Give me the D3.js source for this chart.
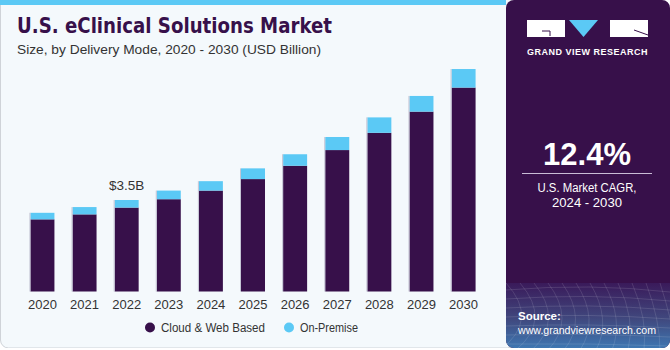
<!DOCTYPE html>
<html><head><meta charset="utf-8">
<script src="https://cdn.jsdelivr.net/npm/d3@7"></script>
<style>html,body{margin:0;padding:0;background:#fff;}svg{display:block;font-family:"Liberation Sans",Arial,sans-serif;}</style>
</head><body>
<script>
const years = ["2020","2021","2022","2023","2024","2025","2026","2027","2028","2029","2030"];
const cloudWeb = [2.76,2.95,3.21,3.53,3.86,4.30,4.81,5.41,6.07,6.88,7.80];
const onPremise = [0.25,0.28,0.29,0.33,0.36,0.41,0.44,0.50,0.59,0.60,0.71];
const seriesNames = ["Cloud & Web Based","On-Premise"];
const seriesColors = ["#37104a","#5bc9f5"];
const annotation = {year:"2022", text:"$3.5B"};

const W=670,H=350;
const svg=d3.select("body").append("svg").attr("width",W).attr("height",H);
const defs=svg.append("defs");

// left panel
svg.append("rect").attr("x",0.5).attr("y",-10).attr("width",515).attr("height",358).attr("rx",8)
  .attr("fill","#f4f9fc").attr("stroke","#cfd3d8").attr("stroke-width",1);
svg.append("rect").attr("x",0).attr("y",0).attr("width",506).attr("height",5).attr("fill","#5bc9f5");

// right panel
const grad=defs.append("linearGradient").attr("id","src").attr("x1",0).attr("y1",0).attr("x2",0).attr("y2",1);
grad.append("stop").attr("offset","0%").attr("stop-color","#3a1a5a");
grad.append("stop").attr("offset","45%").attr("stop-color","#40487e");
grad.append("stop").attr("offset","100%").attr("stop-color","#3d8fcc");
const clip=defs.append("clipPath").attr("id","rp");
clip.append("rect").attr("x",506).attr("y",0).attr("width",164).attr("height",348).attr("rx",8);
const rp=svg.append("g").attr("clip-path","url(#rp)");
rp.append("rect").attr("x",506).attr("y",0).attr("width",180).attr("height",360).attr("fill","#37104a");
rp.append("rect").attr("x",506).attr("y",283).attr("width",180).attr("height",80).attr("fill","url(#src)");
// grid texture
const tex=rp.append("g").attr("stroke","#ffffff").attr("stroke-opacity",0.12).attr("fill","none");
for(let i=0;i<14;i++){tex.append("path").attr("d",`M${506+i*14},283 Q${540+i*12},320 ${500+i*16},350`);}
for(let j=0;j<7;j++){tex.append("path").attr("d",`M506,${290+j*9} Q590,${283+j*10} 670,${292+j*9}`);}
svg.append("rect").attr("x",0).attr("y",348).attr("width",W).attr("height",2).attr("fill","#fff");

// logo
const lg=svg.append("g");
lg.append("rect").attr("x",527).attr("y",20).attr("width",38).attr("height",17).attr("fill","#fff");
lg.append("path").attr("d","M542,31 L550,31 L550,36 M550,31").attr("stroke","#37104a").attr("stroke-width",1).attr("fill","none");
lg.append("path").attr("d","M569,20 L598,20 L583.5,37 Z").attr("fill","#5bc9f5");
lg.append("rect").attr("x",610).attr("y",20).attr("width",38).attr("height",17).attr("fill","#fff");
lg.append("path").attr("d","M634,30 L648,35").attr("stroke","#37104a").attr("stroke-width",1);
lg.append("text").attr("x",587.5).attr("y",55).attr("text-anchor","middle").attr("fill","#fff")
  .attr("font-size",9).attr("font-weight","bold").attr("letter-spacing",0.5).text("GRAND VIEW RESEARCH");

// CAGR
svg.append("text").attr("x",587).attr("y",165).attr("text-anchor","middle").attr("fill","#fff")
  .attr("font-size",31).attr("font-weight","bold").text("12.4%");
svg.append("line").attr("x1",522).attr("x2",652).attr("y1",173.5).attr("y2",173.5).attr("stroke","#c9bcd6").attr("stroke-width",1);
svg.append("text").attr("x",587).attr("y",192).attr("text-anchor","middle").attr("fill","#fff").attr("font-size",12.5)
  .attr("textLength",99).attr("lengthAdjust","spacingAndGlyphs").text("U.S. Market CAGR,");
svg.append("text").attr("x",587).attr("y",207).attr("text-anchor","middle").attr("fill","#fff").attr("font-size",12.5)
  .attr("textLength",70).attr("lengthAdjust","spacingAndGlyphs").text("2024 - 2030");

// source
svg.append("text").attr("x",518).attr("y",320).attr("fill","#fff").attr("font-size",11.5).attr("font-weight","bold").text("Source:");
svg.append("text").attr("x",518).attr("y",334).attr("fill","#fff").attr("font-size",11.5)
  .attr("textLength",138).attr("lengthAdjust","spacingAndGlyphs").text("www.grandviewresearch.com");

// titles
svg.append("text").attr("x",17).attr("y",33).attr("fill","#37104a").attr("font-size",21).attr("font-weight","900")
  .attr("font-family","'DejaVu Sans',sans-serif").attr("textLength",315).attr("lengthAdjust","spacingAndGlyphs")
  .text("U.S. eClinical Solutions Market");
svg.append("text").attr("x",17).attr("y",54).attr("fill","#333").attr("font-size",13.5)
  .attr("textLength",304).attr("lengthAdjust","spacingAndGlyphs").text("Size, by Delivery Mode, 2020 - 2030 (USD Billion)");

// chart
const x=d3.scaleBand().domain(years).range([22,484]).paddingInner(0.43).paddingOuter(0.2);
const y=d3.scaleLinear().domain([0,3.5]).range([291.5,200]);
const data=years.map((yr,i)=>({year:yr,cloud:cloudWeb[i],onprem:onPremise[i]}));
const stack=d3.stack().keys(["cloud","onprem"])(data);
const g=svg.append("g");
stack.forEach((s,si)=>{
  g.selectAll(null).data(s).enter().append("rect")
    .attr("x",d=>x(d.data.year)).attr("width",x.bandwidth())
    .attr("y",d=>y(d[1])).attr("height",d=>y(d[0])-y(d[1]))
    .attr("fill",seriesColors[si]);
});
g.selectAll(null).data(data).enter().append("line")
  .attr("x1",d=>x(d.year)-0.5).attr("x2",d=>x(d.year)-0.5)
  .attr("y1",d=>y(d.cloud+d.onprem)).attr("y2",y(0))
  .attr("stroke","#c4c4d4").attr("stroke-width",1);

const ax=svg.append("g").attr("transform",`translate(0,${y(0)})`).call(d3.axisBottom(x).tickSize(0).tickPadding(8));
ax.select(".domain").remove();
ax.selectAll("text").attr("font-size",13).attr("fill","#333").attr("font-family","'Liberation Sans',Arial,sans-serif");

const ai=years.indexOf(annotation.year);
svg.append("text").attr("x",x(annotation.year)+x.bandwidth()/2).attr("y",y(cloudWeb[ai]+onPremise[ai])-10)
  .attr("text-anchor","middle").attr("fill","#333").attr("font-size",13.5).text(annotation.text);

// legend
const leg=svg.append("g");
[[150,0,104],[289,1,58]].forEach(([lx,i,tl])=>{
  leg.append("circle").attr("cx",lx).attr("cy",327.5).attr("r",5).attr("fill",seriesColors[i]);
  leg.append("text").attr("x",lx+11).attr("y",332).attr("font-size",12.5).attr("fill","#333")
    .attr("textLength",tl).attr("lengthAdjust","spacingAndGlyphs").text(seriesNames[i]);
});
</script>
</body></html>
